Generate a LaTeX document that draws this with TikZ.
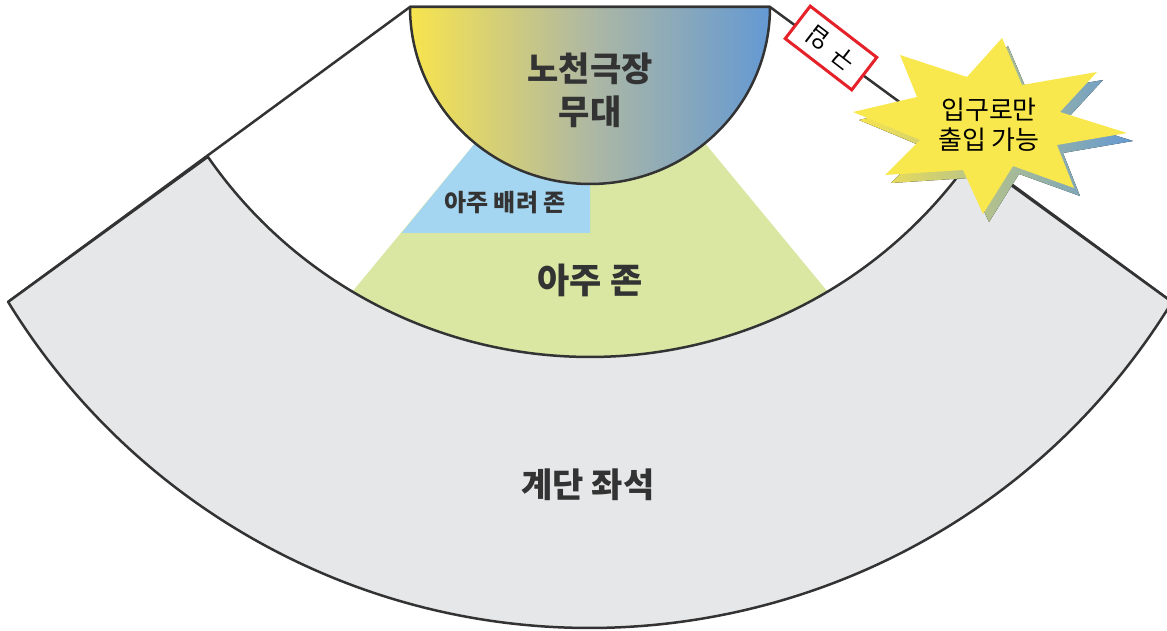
\documentclass[tikz,border=0pt]{standalone}
\usepackage{fontspec}
\newfontfamily\krfont{Noto Sans CJK KR}
\newfontfamily\krheavy{Noto Sans CJK KR Black}
\usetikzlibrary{calc}

\definecolor{linegray}{HTML}{333333}
\definecolor{seatgray}{HTML}{E6E7E8}
\definecolor{zonegreen}{HTML}{D9E7A3}
\definecolor{zoneblue}{HTML}{A5D6F1}
\definecolor{stageyellow}{HTML}{F8E44E}
\definecolor{stagemid}{HTML}{AEB8A3}
\definecolor{stageblue}{HTML}{6499D3}
\definecolor{burstyellow}{HTML}{F8E84E}
\definecolor{signred}{HTML}{E52129}

\def\burst{(1002,593) -- (1022,546) -- (1097,559) -- (1060,519) -- (1127,498) -- (1057,486) -- (1074,443) -- (1013,465) -- (983,417) -- (963,461) -- (885,456) -- (920,491) -- (853,519) -- (917,534) -- (900,576) -- (967,554) -- cycle}

\begin{document}
\begin{tikzpicture}[x=1pt,y=1pt,
    outline/.style={draw=linegray,line width=2.5pt,line join=round},
    zonelabel/.style={text=linegray,align=center},
]
    \useasboundingbox (0,0) rectangle (1167,631);
    \coordinate (OC) at (590,685.5);
    \coordinate (IC) at (590,738.8);
    % zones in front of the stage
    \fill[zonegreen] (477.7,491) -- (702.3,491) -- (900.6,251) -- (279.4,251) -- cycle;
    \fill[zoneblue] (477.7,491) -- (590,491) -- (590,398) -- (401.6,398) -- cycle;
    \draw[outline] (8,329) coordinate (Lo) -- (410,624) coordinate (Sl) -- (770,624) coordinate (Sr) -- (1172,329) coordinate (Ro);
    % stepped seats
    \filldraw[outline,fill=seatgray] (Lo) -- ($(IC)+(214.7:464.8)$) arc[start angle=214.7,end angle=325.3,radius=464.8] -- (Ro) arc[start angle=328.5,end angle=211.5,radius=682.5] -- cycle;
    % stage
    \draw[outline,left color=stageyellow,right color=stageblue,middle color=stagemid] (Sr) arc[start angle=0,end angle=-180,x radius=180,y radius=177] -- cycle;
    \node[zonelabel,font=\krheavy\fontsize{34}{43}\selectfont] (stage) at (590,541) {노천극장\\무대};
    \node[zonelabel,font=\krheavy\fontsize{24}{28}\selectfont] (care) at (505,428) {아주 배려 존};
    \node[zonelabel,font=\krheavy\fontsize{35}{40}\selectfont] (zone) at (590,351) {아주 존};
    \node[zonelabel,font=\krheavy\fontsize{34}{40}\selectfont] (seats) at (588,146) {계단 좌석};
    % entrance sign and notice
    \node[draw=signred,line width=3pt,fill=white,minimum width=84pt,minimum height=41pt,rotate=-37.6,font=\krfont\fontsize{24}{28}\selectfont] (entry) at (831,583) {\rotatebox[origin=c]{180}{입}\hspace{10pt}\rotatebox[origin=c]{180}{구}};
    \fill[left color=stageyellow,right color=stageblue,shift={(6,-8)}] \burst;
    \fill[burstyellow] \burst;
    \node[align=center,font=\krfont\fontsize{26}{30}\selectfont] (notice) at (989,506) {입구로만\\출입 가능};
\end{tikzpicture}
\end{document}
